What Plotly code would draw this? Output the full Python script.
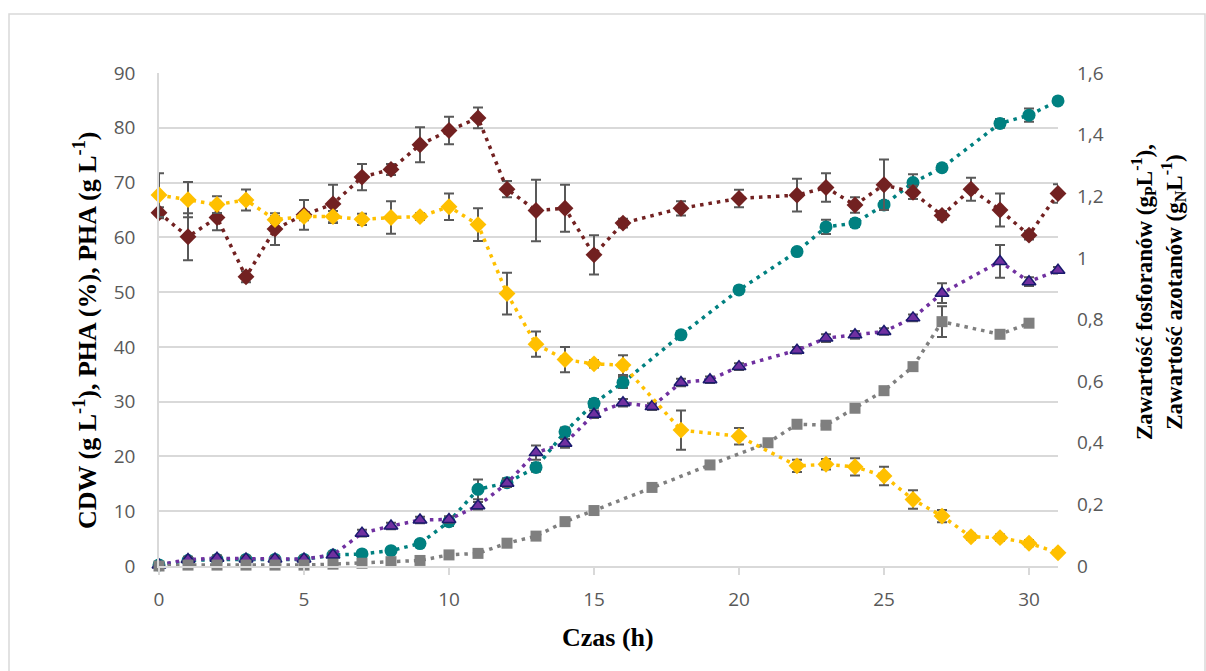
import plotly.graph_objects as go

# ---------------- data ----------------
# PHA (%) - left axis
t_pha_pct = [0,1,2,3,4,5,6,7,8,9,10,11,12,13,14,15,16,18,20,22,23,24,25,26,27,28,29,30,31]
pha_pct = [64.5,60.1,63.6,52.8,61.5,64.1,66.1,71.0,72.4,76.9,79.5,81.8,68.8,64.9,65.3,56.8,62.6,65.3,67.1,67.7,69.1,65.9,69.6,68.2,64.0,68.8,65.0,60.4,68.0]
pha_pct_err = [1.0,4.3,2.3,1.0,2.9,2.7,3.5,2.4,1.0,3.2,2.5,1.9,1.5,5.6,4.3,3.6,0.8,1.3,1.6,3.0,2.6,1.4,4.6,1.2,0.8,2.1,3.0,0.8,1.7]

# CDW (g/L) - left axis
t_cdw = [0,1,2,3,4,5,6,7,8,9,10,11,12,13,14,15,16,18,20,22,23,24,25,26,27,29,30,31]
cdw = [0.2,1.0,1.2,1.2,1.2,1.2,2.0,2.2,2.8,4.1,8.1,14.0,15.2,18.0,24.5,29.7,33.5,42.2,50.4,57.4,61.9,62.6,65.9,70.0,72.7,80.8,82.3,84.9]
cdw_err = [0.3,0.3,0.3,0.3,0.3,0.3,0.5,0.5,0.5,0.6,0.8,1.8,0.8,0.8,0.8,0.8,1.0,0.6,0.6,0.6,1.3,0.7,0.7,1.5,0.6,0.8,1.2,0.5]

# PHA (g/L) - left axis
t_pha_g = [0,1,2,3,4,5,6,7,8,9,10,11,12,13,14,15,16,17,18,19,20,22,23,24,25,26,27,29,30,31]
pha_g = [0.2,1.2,1.4,1.3,1.3,1.3,2.0,6.0,7.3,8.4,8.5,11.0,15.1,20.7,22.4,27.7,29.8,29.1,33.5,34.0,36.4,39.4,41.6,42.2,42.8,45.3,49.8,55.6,51.9,54.0]
pha_g_err = [0.3,0.5,0.5,0.5,0.5,0.5,0.5,0.6,0.6,0.6,0.6,0.7,0.7,1.3,0.8,0.7,0.7,0.6,0.7,0.6,0.6,0.6,0.7,0.7,0.6,0.6,1.8,3.0,0.8,0.6]

# Phosphate (gP/L) - right axis
t_p = [0,1,2,3,4,5,6,7,8,9,10,11,12,13,14,15,16,18,20,22,23,24,25,26,27,28,29,30,31]
phosphate = [1.204,1.189,1.173,1.188,1.124,1.134,1.134,1.125,1.131,1.134,1.166,1.108,0.884,0.720,0.670,0.656,0.652,0.441,0.421,0.325,0.330,0.322,0.292,0.216,0.162,0.095,0.092,0.074,0.043]
phosphate_err = [0.071,0.057,0.027,0.034,0.011,0.012,0.018,0.018,0.053,0.011,0.043,0.053,0.068,0.041,0.041,0.012,0.032,0.064,0.027,0.020,0.017,0.028,0.030,0.030,0.020,0.010,0.010,0.010,0.005]

# Nitrate (gN/L) - right axis
t_n = [0,1,2,3,4,5,6,7,8,9,10,11,12,13,14,15,17,19,21,22,23,24,25,26,27,29,30]
nitrate = [0.0,0.003,0.003,0.003,0.003,0.003,0.006,0.009,0.014,0.018,0.036,0.041,0.074,0.097,0.144,0.180,0.255,0.328,0.400,0.460,0.457,0.512,0.569,0.647,0.793,0.752,0.788]
nitrate_err = [0.005,0.005,0.005,0.005,0.005,0.005,0.005,0.005,0.005,0.005,0.006,0.008,0.008,0.008,0.008,0.008,0.008,0.008,0.008,0.008,0.008,0.008,0.008,0.008,0.05,0.008,0.008]

x_ticks = [0,5,10,15,20,25,30]
y2_ticks = [0,0.2,0.4,0.6,0.8,1.0,1.2,1.4,1.6]
y2_ticktext = ["0","0,2","0,4","0,6","0,8","1","1,2","1,4","1,6"]

# ---------------- figure ----------------
ERR_COLOR = "#595959"
DASH = "3.5px,5px"

def err(a):
    return dict(type="data", array=a, visible=True, color=ERR_COLOR, thickness=2, width=5)

fig = go.Figure()

fig.add_trace(go.Scatter(x=t_n, y=nitrate, yaxis="y2", mode="lines+markers", name="N",
    line=dict(color="#7F7F7F", width=3.5, dash=DASH),
    marker=dict(symbol="square", size=11, color="#7F7F7F"),
    error_y=err(nitrate_err), cliponaxis=False))

fig.add_trace(go.Scatter(x=t_cdw, y=cdw, mode="lines+markers", name="CDW",
    line=dict(color="#008080", width=3.5, dash=DASH),
    marker=dict(symbol="circle", size=13, color="#008080"),
    error_y=err(cdw_err), cliponaxis=False))

fig.add_trace(go.Scatter(x=t_p, y=phosphate, yaxis="y2", mode="lines+markers", name="P",
    line=dict(color="#FFC000", width=3.5, dash=DASH),
    marker=dict(symbol="diamond", size=13, color="#FFC000"),
    error_y=err(phosphate_err), cliponaxis=False))

fig.add_trace(go.Scatter(x=t_pha_g, y=pha_g, mode="lines+markers", name="PHA g/L",
    line=dict(color="#7030A0", width=3.5, dash=DASH),
    marker=dict(symbol="triangle-up", size=12, color="#7030A0", line=dict(color="#1A1A6E", width=1.5)),
    error_y=err(pha_g_err), cliponaxis=False))

fig.add_trace(go.Scatter(x=t_pha_pct, y=pha_pct, mode="lines+markers", name="PHA %",
    line=dict(color="#722121", width=3.5, dash=DASH),
    marker=dict(symbol="diamond", size=13, color="#722121"),
    error_y=err(pha_pct_err), cliponaxis=False))

TICKFONT = dict(family="Open Sans", size=19, color="#595959")
TITLEFONT = "Liberation Serif"

L, R, T, B = 159, 148, 73, 105
W, H = 1206, 671
pw, ph = W - L - R, H - T - B

def px2paper_x(px):
    return (px - L) / pw

def px2paper_y(py):
    return (H - B - py) / ph

fig.update_layout(
    width=W, height=H, autosize=False,
    margin=dict(l=L, r=R, t=T, b=B),
    paper_bgcolor="white", plot_bgcolor="white",
    showlegend=False,
    xaxis=dict(range=[0, 31], tickvals=x_ticks, showgrid=False, zeroline=False,
               showline=True, linecolor="#D9D9D9", linewidth=1.5,
               ticks="outside", ticklen=7, tickcolor="#D9D9D9", tickwidth=1.5,
               tickfont=TICKFONT, ticklabelstandoff=8),
    yaxis=dict(range=[0, 90], dtick=10, showgrid=True, gridcolor="#D9D9D9", gridwidth=1.5,
               zeroline=False, showline=True, linecolor="#D9D9D9", linewidth=1.5,
               ticks="", tickfont=TICKFONT, ticklabelstandoff=18),
    yaxis2=dict(range=[0, 1.6], overlaying="y", side="right", tickvals=y2_ticks, ticktext=y2_ticktext,
                showgrid=False, zeroline=False, showline=False, ticks="",
                tickfont=TICKFONT, ticklabelstandoff=18),
    annotations=[
        dict(text="<b>Czas (h)</b>", xref="paper", yref="paper",
             x=px2paper_x(608), y=px2paper_y(637), showarrow=False,
             font=dict(family=TITLEFONT, size=26, color="black"), xanchor="center", yanchor="middle"),
        dict(text="<b>CDW (g L<sup>-1</sup>), PHA (%), PHA (g L<sup>-1</sup>)</b>", xref="paper", yref="paper",
             x=px2paper_x(85), y=px2paper_y(331), showarrow=False, textangle=-90,
             font=dict(family=TITLEFONT, size=26, color="black"), xanchor="center", yanchor="middle"),
        dict(text="<b>Zawartość fosforanów (g<sub>P</sub>L<sup>-1</sup>),<br>Zawartość azotanów (g<sub>N</sub>L<sup>-1</sup>)</b>",
             xref="paper", yref="paper",
             x=px2paper_x(1158), y=px2paper_y(292), showarrow=False, textangle=-90,
             font=dict(family=TITLEFONT, size=23, color="black"), xanchor="center", yanchor="middle"),
    ],
    shapes=[
        dict(type="rect", xref="paper", yref="paper",
             x0=px2paper_x(9), x1=px2paper_x(1205), y0=px2paper_y(680), y1=px2paper_y(14),
             line=dict(color="#D9D9D9", width=1.5), fillcolor="rgba(0,0,0,0)", layer="below"),
    ],
)

fig.write_html("out.html")
